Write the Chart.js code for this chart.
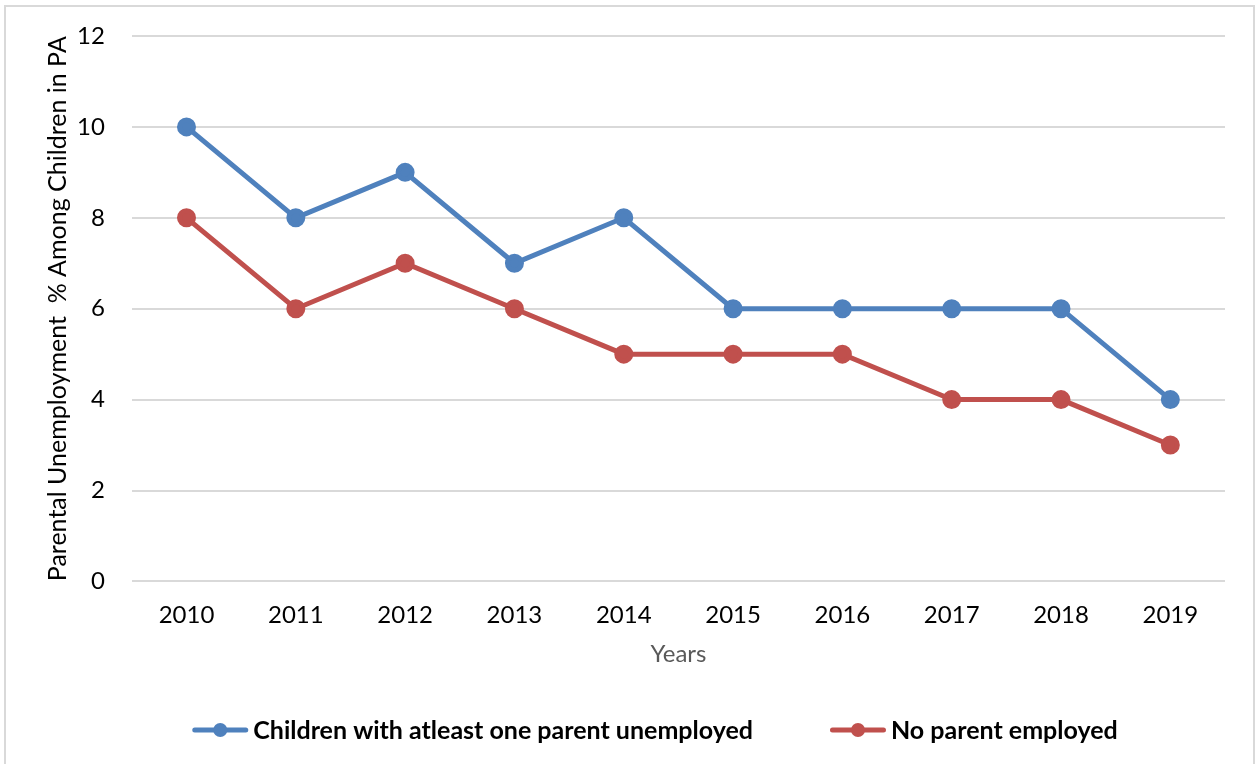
<!DOCTYPE html>
<html lang="en">
<head>
    <meta charset="UTF-8">
    <title>Parental Unemployment</title>
    <style>
        body {
            margin: 0;
            padding: 0;
            background-color: #ffffff;
        }

        .frame {
            position: absolute;
            left: 4px;
            top: 5px;
            width: 1247px;
            height: 780px;
            border: 2px solid #d9d9d9;
        }

        .chart-box {
            position: absolute;
            left: 0;
            top: 0;
            width: 1255px;
            height: 764px;
        }
    </style>
</head>
<body>
    <div class="frame"></div>
    <div class="chart-box">
        <canvas id="chart"></canvas>
    </div>

    <script src="https://cdn.jsdelivr.net/npm/chart.js"></script>
    <script>
        // Dados
        var years = ['2010', '2011', '2012', '2013', '2014', '2015', '2016', '2017', '2018', '2019'];
        var oneParentUnemployed = [10, 8, 9, 7, 8, 6, 6, 6, 6, 4];
        var noParentEmployed = [8, 6, 7, 6, 5, 5, 5, 4, 4, 3];
        var yTicks = [0, 2, 4, 6, 8, 10, 12];

        var blue = '#4f81bd';
        var red = '#c0504d';
        var fontName = 'Lato, "Open Sans", sans-serif';

        // Legenda no estilo do Excel: linha com ponto no meio
        var lineLegend = {
            id: 'lineLegend',
            afterDraw: function(chart, args, opts) {
                var ctx = chart.ctx;
                var datasets = chart.data.datasets;
                ctx.save();
                ctx.font = 'bold 25px ' + fontName;
                ctx.textBaseline = 'middle';
                var widths = datasets.map(function(ds) { return ctx.measureText(ds.label).width; });
                var total = 0;
                widths.forEach(function(w) { total += opts.markerWidth + opts.textGap + w; });
                total += opts.itemGap * (datasets.length - 1);
                var x = opts.centerX - total / 2;
                var y = opts.y;
                datasets.forEach(function(ds, i) {
                    ctx.strokeStyle = ds.borderColor;
                    ctx.fillStyle = ds.borderColor;
                    ctx.lineWidth = 5;
                    ctx.lineCap = 'round';
                    ctx.beginPath();
                    ctx.moveTo(x + 2.5, y);
                    ctx.lineTo(x + opts.markerWidth - 2.5, y);
                    ctx.stroke();
                    ctx.beginPath();
                    ctx.arc(x + opts.markerWidth / 2, y, 7, 0, Math.PI * 2);
                    ctx.fill();
                    ctx.fillStyle = '#000000';
                    ctx.fillText(ds.label, x + opts.markerWidth + opts.textGap, y + 1);
                    x += opts.markerWidth + opts.textGap + widths[i] + opts.itemGap;
                });
                ctx.restore();
            }
        };

        var config = {
            type: 'line',
            data: {
                labels: years,
                datasets: [{
                    label: 'Children with atleast one parent unemployed',
                    data: oneParentUnemployed,
                    borderColor: blue,
                    backgroundColor: blue,
                    borderWidth: 5,
                    pointRadius: 7,
                    pointHoverRadius: 7,
                    tension: 0
                }, {
                    label: 'No parent employed',
                    data: noParentEmployed,
                    borderColor: red,
                    backgroundColor: red,
                    borderWidth: 5,
                    pointRadius: 7,
                    pointHoverRadius: 7,
                    tension: 0
                }]
            },
            options: {
                responsive: true,
                maintainAspectRatio: false,
                animation: false,
                layout: {
                    padding: { left: 16, right: 30, top: 36, bottom: 95 }
                },
                plugins: {
                    tooltip: { enabled: false },
                    legend: { display: false },
                    lineLegend: {
                        centerX: 655,
                        y: 730,
                        markerWidth: 56,
                        textGap: 5,
                        itemGap: 77
                    }
                },
                scales: {
                    x: {
                        offset: true,
                        grid: { display: false },
                        border: { display: false },
                        ticks: {
                            color: '#000000',
                            padding: 11,
                            font: { family: fontName, size: 24 }
                        },
                        title: {
                            display: true,
                            text: 'Years',
                            color: '#595959',
                            font: { family: fontName, size: 24 },
                            padding: { top: 0, bottom: 0 }
                        }
                    },
                    y: {
                        min: 0,
                        max: 12,
                        afterBuildTicks: function(axis) {
                            axis.ticks = yTicks.map(function(v) { return { value: v }; });
                        },
                        // o padding dos ticks não deve empurrar o topo do gráfico
                        afterFit: function(axis) {
                            axis.paddingTop = 15;
                            axis.paddingBottom = 15;
                        },
                        grid: {
                            color: '#d9d9d9',
                            lineWidth: 2,
                            drawTicks: false
                        },
                        border: { display: false },
                        ticks: {
                            color: '#000000',
                            padding: 27,
                            font: { family: fontName, size: 24 }
                        },
                        title: {
                            display: true,
                            text: 'Parental Unemployment  % Among Children in PA',
                            color: '#000000',
                            font: { family: fontName, size: 25 },
                            padding: { top: 27, bottom: -23 }
                        }
                    }
                }
            },
            plugins: [lineLegend]
        };

        var ctx = document.getElementById('chart').getContext('2d');
        new Chart(ctx, config);
    </script>
</body>
</html>
